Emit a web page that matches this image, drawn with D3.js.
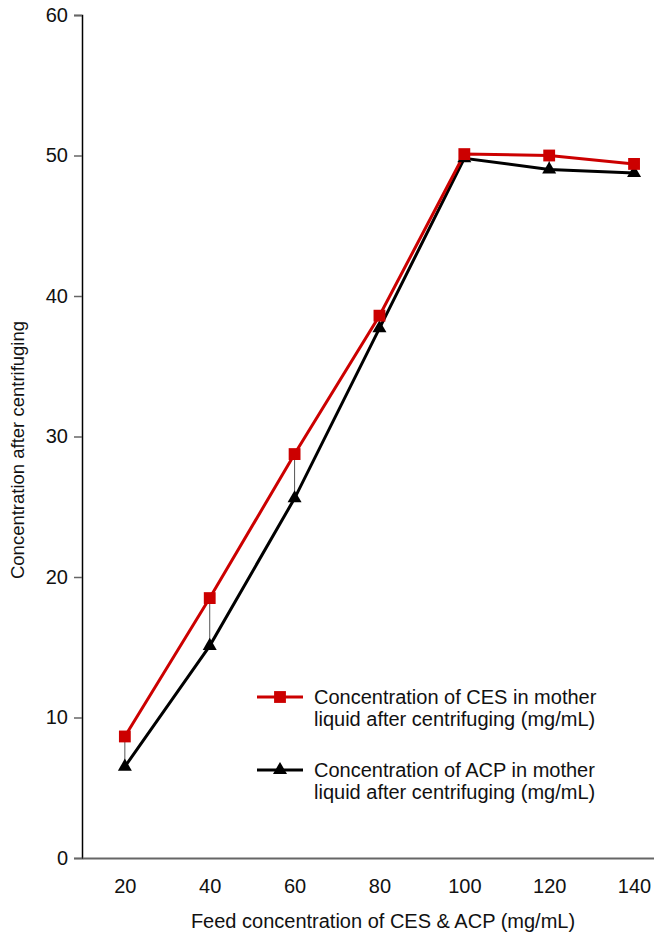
<!DOCTYPE html>
<html>
<head>
<meta charset="utf-8">
<script src="https://cdn.jsdelivr.net/npm/d3@7"></script>
<style>
  body { margin: 0; background: #fff; }
  text { font-family: "Liberation Sans", Arial, sans-serif; fill: #111; }
</style>
</head>
<body>
<script>
const w = 654;
const h = 936;

const feed = [20, 40, 60, 80, 100, 120, 140];
const ces = [8.65, 18.5, 28.75, 38.6, 50.1, 50.0, 49.4];
const acp = [6.5, 15.1, 25.6, 37.7, 49.8, 49.0, 48.75];
const yTicks = [0, 10, 20, 30, 40, 50, 60];
const legendLabels = [
  ["Concentration of CES in mother", "liquid after centrifuging (mg/mL)"],
  ["Concentration of ACP in mother", "liquid after centrifuging (mg/mL)"]
];

const svg = d3.select("body").append("svg").attr("width", w).attr("height", h);

const x = d3.scaleLinear().domain([9.9, 144.7]).range([82, 654]);
const y = d3.scaleLinear().domain([0, 60]).range([858, 15]);

// y axis
const yAxis = svg.append("g")
  .attr("transform", "translate(82,0)")
  .call(d3.axisLeft(y).tickValues(yTicks).tickSize(8).tickPadding(6));
yAxis.select(".domain").attr("stroke", "#000").attr("stroke-width", 1.5);
yAxis.selectAll(".tick line").attr("stroke", "#666").attr("stroke-width", 1.5);
yAxis.selectAll(".tick text")
  .attr("font-size", "20px")
  .attr("font-family", "Liberation Sans, Arial, sans-serif")
  .attr("fill", "#111");

// x axis, no tick marks
const xAxis = svg.append("g")
  .attr("transform", "translate(0,858)")
  .call(d3.axisBottom(x).tickValues(feed).tickSize(0).tickPadding(21).tickSizeOuter(0));
xAxis.select(".domain").attr("stroke", "#666").attr("stroke-width", 2);
xAxis.selectAll(".tick text")
  .attr("font-size", "20px")
  .attr("font-family", "Liberation Sans, Arial, sans-serif")
  .attr("fill", "#111");

// axis titles
svg.append("text")
  .attr("x", 383).attr("y", 928)
  .attr("text-anchor", "middle")
  .attr("font-size", "20px")
  .text("Feed concentration of CES & ACP (mg/mL)");

svg.append("text")
  .attr("transform", "translate(24,450) rotate(-90)")
  .attr("text-anchor", "middle")
  .attr("font-size", "18.5px")
  .text("Concentration after centrifuging");

// thin drop lines between the two series
svg.selectAll(".drop")
  .data(feed)
  .enter()
  .append("line")
  .attr("x1", function (d) { return x(d); })
  .attr("x2", function (d) { return x(d); })
  .attr("y1", function (d, i) { return y(ces[i]); })
  .attr("y2", function (d, i) { return y(acp[i]); })
  .attr("stroke", "#555")
  .attr("stroke-width", 1);

const lineFunc = d3.line()
  .x(function (d) { return x(d[0]); })
  .y(function (d) { return y(d[1]); });

const acpPts = feed.map(function (d, i) { return [d, acp[i]]; });
const cesPts = feed.map(function (d, i) { return [d, ces[i]]; });

svg.append("path")
  .attr("d", lineFunc(acpPts))
  .attr("fill", "none")
  .attr("stroke", "#000")
  .attr("stroke-width", 3);

svg.append("path")
  .attr("d", lineFunc(cesPts))
  .attr("fill", "none")
  .attr("stroke", "#cc0000")
  .attr("stroke-width", 3);

const tri = d3.symbol().type(d3.symbolTriangle).size(85);
const sq = d3.symbol().type(d3.symbolSquare).size(140);

svg.selectAll(".acp")
  .data(acpPts)
  .enter()
  .append("path")
  .attr("d", tri)
  .attr("transform", function (d) { return "translate(" + x(d[0]) + "," + y(d[1]) + ")"; })
  .attr("fill", "#000");

svg.selectAll(".ces")
  .data(cesPts)
  .enter()
  .append("path")
  .attr("d", sq)
  .attr("transform", function (d) { return "translate(" + x(d[0]) + "," + y(d[1]) + ")"; })
  .attr("fill", "#cc0000");

// legend
const legend = svg.append("g").attr("transform", "translate(257,697)");
const legColors = ["#cc0000", "#000"];
const legSyms = [sq, tri];
legendLabels.forEach(function (lab, i) {
  const g = legend.append("g").attr("transform", "translate(0," + i * 73 + ")");
  g.append("line")
    .attr("x1", 0).attr("x2", 46)
    .attr("y1", 0).attr("y2", 0)
    .attr("stroke", legColors[i])
    .attr("stroke-width", 3);
  g.append("path")
    .attr("d", legSyms[i])
    .attr("transform", "translate(23,0)")
    .attr("fill", legColors[i]);
  g.selectAll("text")
    .data(lab)
    .enter()
    .append("text")
    .attr("x", 57)
    .attr("y", function (d, j) { return j * 22; })
    .attr("dy", ".35em")
    .attr("font-size", "20px")
    .text(function (d) { return d; });
});
</script>
</body>
</html>
